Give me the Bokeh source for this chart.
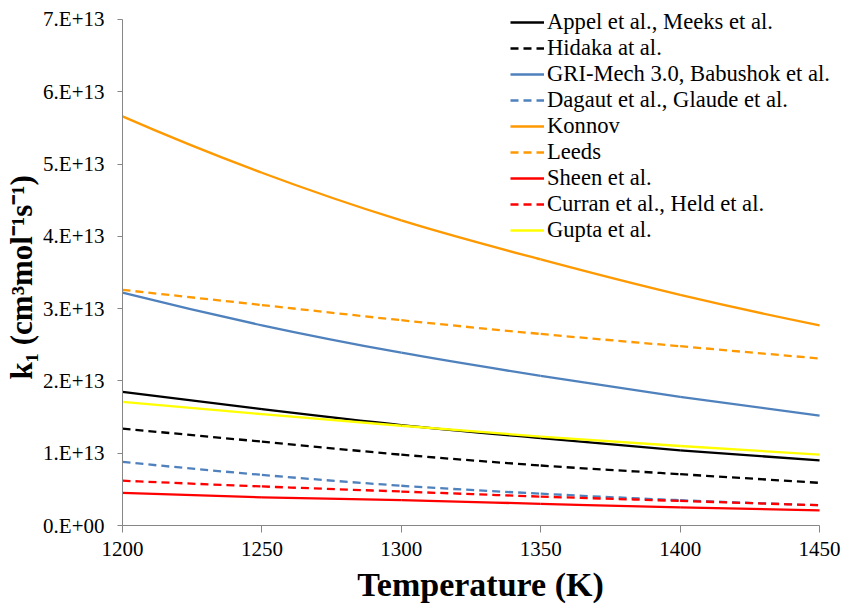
import numpy as np
from bokeh.plotting import figure
from bokeh.models import Range1d, Legend, LegendItem, FixedTicker, CustomJSTickFormatter, Title
from bokeh.embed import file_html
from bokeh.resources import INLINE

temperature = [1200, 1250, 1300, 1350, 1400, 1450]

appel = [1.85e13, 1.61e13, 1.39e13, 1.21e13, 1.04e13, 0.90e13]
hidaka = [1.34e13, 1.16e13, 0.98e13, 0.83e13, 0.71e13, 0.59e13]
gri = [3.22e13, 2.77e13, 2.39e13, 2.07e13, 1.78e13, 1.52e13]
dagaut = [0.88e13, 0.70e13, 0.55e13, 0.44e13, 0.35e13, 0.28e13]
konnov = [5.66e13, 4.88e13, 4.22e13, 3.68e13, 3.19e13, 2.77e13]
leeds = [3.26e13, 3.05e13, 2.84e13, 2.65e13, 2.48e13, 2.31e13]
sheen = [0.45e13, 0.39e13, 0.35e13, 0.30e13, 0.25e13, 0.21e13]
curran = [0.62e13, 0.54e13, 0.47e13, 0.40e13, 0.34e13, 0.28e13]
gupta = [1.71e13, 1.54e13, 1.38e13, 1.23e13, 1.10e13, 0.98e13]

series = [
    ("Appel et al., Meeks et al.", appel, "#000000", "solid"),
    ("Hidaka at al.", hidaka, "#000000", "8 5"),
    ("GRI-Mech 3.0, Babushok et al.", gri, "#4F81BD", "solid"),
    ("Dagaut et al., Glaude et al.", dagaut, "#4F81BD", "8 5"),
    ("Konnov", konnov, "#FF9900", "solid"),
    ("Leeds", leeds, "#FF9900", "8 5"),
    ("Sheen et al.", sheen, "#FF0000", "solid"),
    ("Curran et al., Held et al.", curran, "#FF0000", "8 5"),
    ("Gupta et al.", gupta, "#FFFF00", "solid"),
]

x_ticks = [1200, 1250, 1300, 1350, 1400, 1450]
y_ticks = [0, 1e13, 2e13, 3e13, 4e13, 5e13, 6e13, 7e13]


def smooth_segments(xs, ys):
    """Cubic Bezier pieces through every data point (like a smoothed
    spreadsheet line): each piece starts and ends on a data point."""
    x = np.asarray(xs, dtype=float)
    y = np.asarray(ys, dtype=float)
    n = len(x)
    tx = np.empty(n)
    ty = np.empty(n)
    tx[1:-1] = (x[2:] - x[:-2]) / 6.0
    ty[1:-1] = (y[2:] - y[:-2]) / 6.0
    tx[0] = (4 * x[1] - 3 * x[0] - x[2]) / 6.0
    ty[0] = (4 * y[1] - 3 * y[0] - y[2]) / 6.0
    tx[-1] = (3 * x[-1] - 4 * x[-2] + x[-3]) / 6.0
    ty[-1] = (3 * y[-1] - 4 * y[-2] + y[-3]) / 6.0
    return dict(x0=x[:-1], y0=y[:-1], x1=x[1:], y1=y[1:],
                cx0=x[:-1] + tx[:-1], cy0=y[:-1] + ty[:-1],
                cx1=x[1:] - tx[1:], cy1=y[1:] - ty[1:])


# frame is larger than the axes' bounds so that the legend (which Bokeh clips
# to the frame) can stick out to the right and above, as in the reference
p = figure(width=846, height=605, output_backend="svg", toolbar_location=None,
           x_range=Range1d(1200, 1456.8), y_range=Range1d(0, 7.152e13))
p.min_border_left = 121
p.min_border_right = 8
p.min_border_top = 8
p.min_border_bottom = 80
p.outline_line_color = None
p.background_fill_color = "white"
p.border_fill_color = "white"
p.xgrid.grid_line_color = None
p.ygrid.grid_line_color = None

serif = "'Liberation Serif', 'Times New Roman', serif"

p.xaxis.ticker = FixedTicker(ticks=x_ticks)
p.yaxis.ticker = FixedTicker(ticks=y_ticks)
p.xaxis.bounds = (1200, 1450)
p.yaxis.bounds = (0, 7e13)
p.yaxis.formatter = CustomJSTickFormatter(code="""
    if (tick == 0) { return "0.E+00"; }
    const e = Math.floor(Math.log10(tick) + 1e-9);
    const m = Math.round(tick / Math.pow(10, e));
    return m + ".E+" + e;
""")

for ax in (p.xaxis[0], p.yaxis[0]):
    ax.axis_line_color = "#868686"
    ax.axis_line_width = 1
    ax.major_tick_line_color = "#868686"
    ax.minor_tick_line_color = None
    ax.major_tick_in = 0
    ax.major_label_text_font = serif
    ax.major_label_text_font_size = "21px"
    ax.major_label_text_color = "#000000"
    ax.axis_label_text_font = serif
    ax.axis_label_text_font_style = "bold"
    ax.axis_label_text_font_size = "34px"
    ax.axis_label_text_color = "#000000"

p.xaxis.major_tick_out = 7
p.yaxis.major_tick_out = 5
p.xaxis.major_label_standoff = 9
p.yaxis.major_label_standoff = 13
p.xaxis.axis_label = "Temperature (K)"
p.xaxis.axis_label_standoff = 7

ytitle = Title(text="k\u2081 (cm\u00b3mol\u207b\u00b9s\u207b\u00b9)", align="left", offset=146,
               text_font=serif, text_font_style="bold", text_font_size="31px",
               text_color="#000000", standoff=3)
p.add_layout(ytitle, "left")

items = []
for name, vals, color, dash in series:
    r = p.bezier(line_color=color, line_width=2.3, line_dash=dash,
                 **smooth_segments(temperature, vals))
    items.append(LegendItem(label=name, renderers=[r]))

legend = Legend(items=items, location=(388, 282))
legend.border_line_color = None
legend.background_fill_alpha = 0
legend.padding = 0
legend.margin = 0
legend.spacing = 0
legend.glyph_width = 34
legend.glyph_height = 26
legend.label_height = 26
legend.label_standoff = 3
legend.label_text_font = serif
legend.label_text_font_size = "22.6px"
legend.label_text_color = "#000000"
p.add_layout(legend, "center")

open("out.html", "w").write(file_html(p, INLINE))
